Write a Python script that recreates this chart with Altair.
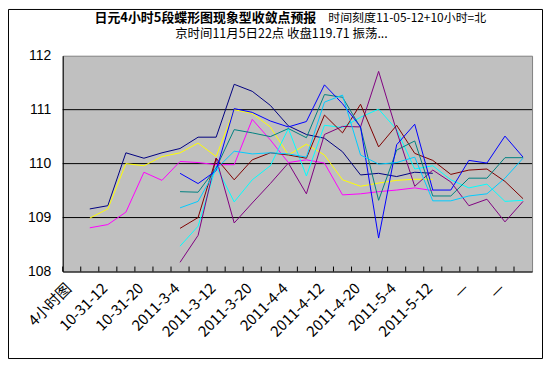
import json
import altair as alt
import pandas as pd

# ---- data ----
categories = list(range(26))
x_labels = ["4小时图", "", "10-31-12", "", "10-31-20", "", "2011-3-4", "", "2011-3-12", "",
            "2011-3-20", "", "2011-4-4", "", "2011-4-12", "", "2011-4-20", "", "2011-5-4", "",
            "2011-5-12", "", "—", "", "—", ""]
y_ticks = [108, 109, 110, 111, 112]
grid_values = [109, 110, 111]

N = None
s_navy = [N, 109.16, 109.22, 110.20, 110.10, 110.20, 110.28, 110.49, 110.49, 111.47, 111.34, 111.08, 110.70,
          110.54, 110.47, 110.22, 109.79, 109.82, 109.76, 109.84, 109.82, N, N, N, N, N]
s_yellow = [N, 108.99, 109.16, 110.00, 109.96, 110.13, 110.20, 110.38, 110.13, 111.00, 110.93, 110.68, 110.16,
            110.36, 110.16, 109.70, 109.58, 109.64, 109.69, 109.71, 109.71, N, N, N, N, N]
s_magenta = [N, 108.81, 108.87, 109.10, 109.84, 109.69, 110.04, 110.02, 109.98, 109.98, 110.82, 110.44, 110.02,
             110.07, 110.01, 109.42, 109.44, 109.48, 109.51, 109.55, 109.50, N, N, N, N, N]
s_blue = [N, N, N, N, N, N, 109.82, 109.63, 109.87, 111.02, 110.95, 110.79, 110.68, 110.78, 111.46, 111.11,
          110.68, 108.62, 110.35, 110.73, 109.51, 109.51, 110.06, 110.01, 110.51, 110.12]
s_teal = [N, N, N, N, N, N, 109.48, 109.47, 109.92, 110.63, 110.57, 110.50, 110.65, 110.48, 111.28, 111.23,
          110.67, 109.32, 110.25, 110.42, 109.40, 109.40, 109.73, 109.73, 110.11, 110.11]
s_sky = [N, N, N, N, N, N, 109.18, 109.30, 109.90, 110.23, 110.18, 110.20, 110.18, 110.12, 111.14, 111.27,
         110.16, 109.99, 110.02, 110.12, 109.31, 109.31, 109.40, 109.44, 109.73, 110.10]
s_cyan = [N, N, N, N, N, N, 108.47, 108.84, 109.95, 109.29, 109.70, 109.96, 110.65, 109.77, 110.71, 110.67,
          110.86, 111.01, 110.63, 109.90, 109.96, 109.70, 109.55, 109.62, 109.30, 109.32]
s_maroon = [N, N, N, N, N, N, 108.80, 109.00, 110.10, 109.70, 110.07, 110.20, 110.16, 110.10, 110.90, 110.57,
            111.10, 110.31, 110.71, 110.19, 110.06, 109.80, 109.88, 109.90, 109.67, 109.35]
s_purple = [N, N, N, N, N, N, 108.17, 108.67, 110.10, 108.90, 109.27, 109.63, 110.01, 109.44, 110.54, 110.69,
            110.68, 111.71, 110.60, 109.58, 109.88, 109.66, 109.22, 109.34, 108.92, 109.30]

series_names = ["s1", "s2", "s3", "s4", "s5", "s6", "s7", "s8", "s9"]
series_values = [s_navy, s_magenta, s_yellow, s_cyan, s_purple, s_maroon, s_teal, s_blue, s_sky]
series_colors = ["#000080", "#FF00FF", "#FFFF00", "#00FFFF", "#800080", "#800000", "#008080", "#0000FF", "#00CCFF"]

title_bold = "日元4小时5段蝶形图现象型收敛点预报"
title_rest = "时间刻度11-05-12+10小时=北"
title_line2 = "京时间11月5日22点 收盘119.71 振荡..."

# ---- build table ----
rows = []
for name, vals in zip(series_names, series_values):
    for i, v in zip(categories, vals):
        if v is not None:
            rows.append({"i": i, "v": v, "s": name})
df = pd.DataFrame(rows)

W, H = 472, 217
yscale = alt.Scale(domain=[108, 112], nice=False, zero=False)
xscale = alt.Scale(type="band", domain=categories, paddingInner=0, paddingOuter=0)
label_expr = json.dumps(x_labels, ensure_ascii=False) + "[datum.value]"

x_axis = alt.Axis(title=None, labelExpr=label_expr, labelAngle=-45, labelAlign="right",
                  labelBaseline="middle", labelPadding=14, labelOffset=-3, ticks=False, tickSize=0,
                  domainColor="black", labelFont="Noto Sans CJK SC", labelFontSize=15,
                  labelColor="black", labelOverlap=False, grid=False)
y_axis = alt.Axis(title=None, values=y_ticks, ticks=False, tickSize=0, labelPadding=12,
                  domainColor="black", labelFont="Liberation Sans", labelFontSize=14,
                  labelColor="black", grid=False)

grid = alt.Chart(pd.DataFrame({"v": grid_values})).mark_rule(color="black", strokeWidth=1).encode(
    y=alt.Y("v:Q", scale=yscale, axis=y_axis)
)

lines = alt.Chart(df).mark_line(strokeWidth=1, interpolate="linear").encode(
    x=alt.X("i:O", scale=xscale, bandPosition=0.5, axis=x_axis),
    y=alt.Y("v:Q", scale=yscale, axis=y_axis),
    color=alt.Color("s:N", scale=alt.Scale(domain=series_names, range=series_colors), legend=None),
)

ticks = alt.Chart(pd.DataFrame({"i": categories})).mark_rule(color="black", strokeWidth=1).encode(
    x=alt.X("i:O", scale=xscale, bandPosition=0, axis=x_axis),
    y=alt.value(H - 5),
    y2=alt.value(H),
)

one = pd.DataFrame({"a": [1]})
t1 = alt.Chart(one).mark_text(font="Noto Sans CJK SC", fontSize=13, fontWeight="bold", align="right",
                              baseline="alphabetic", color="black").encode(
    x=alt.value(255), y=alt.value(-34), text=alt.value(title_bold))
t2 = alt.Chart(one).mark_text(font="Noto Sans CJK SC", fontSize=12, align="left",
                              baseline="alphabetic", color="black").encode(
    x=alt.value(267), y=alt.value(-34), text=alt.value(title_rest))
t3 = alt.Chart(one).mark_text(font="Noto Sans CJK SC", fontSize=12.5, align="center",
                              baseline="alphabetic", color="black").encode(
    x=alt.value(220), y=alt.value(-18), text=alt.value(title_line2))
border = alt.Chart(one).mark_rect(fill=None, stroke="black", strokeWidth=1).encode(
    x=alt.value(-54.5), x2=alt.value(482.5), y=alt.value(-46.5), y2=alt.value(304.5))

chart = alt.layer(grid, lines, ticks, t1, t2, t3, border).properties(
    width=W, height=H,
    autosize=alt.AutoSizeParams(type="none"),
    padding={"left": 55, "top": 47, "right": 11, "bottom": 88},
    background="white",
).configure_view(stroke="#808080", fill="#C0C0C0", strokeWidth=1)

chart.save("out.html", embed_options={"renderer": "svg", "actions": False})
